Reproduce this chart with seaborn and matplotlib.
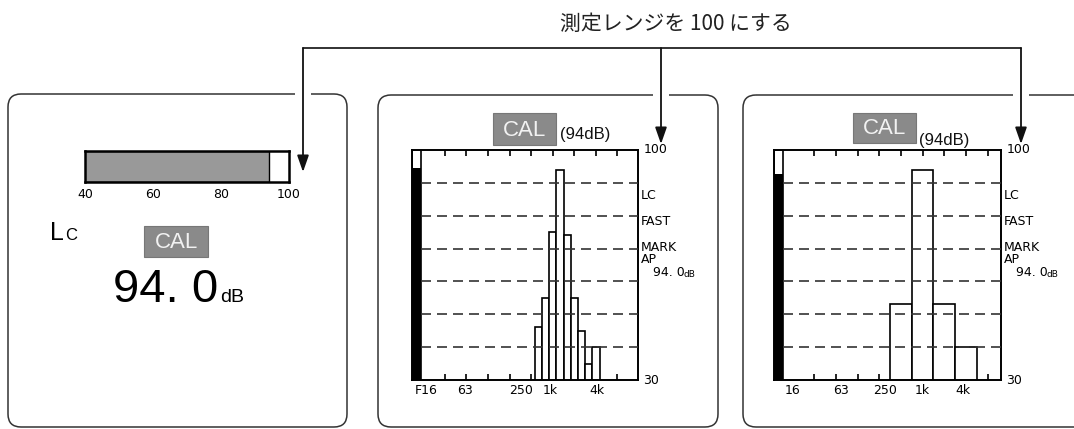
import matplotlib
matplotlib.use("Agg")
import matplotlib.pyplot as plt
import seaborn as sns
import pandas as pd
from matplotlib.patches import FancyBboxPatch, Rectangle

# ---- data ----
meter_ticks = [40, 60, 80, 100]
meter_level = 94.0
display_value = "94. 0"

# 1/3 octave band names, 16 Hz .. 16 kHz
all_bands = ["16", "20", "25", "31.5", "40", "50", "63", "80", "100", "125", "160",
             "200", "250", "315", "400", "500", "630", "800", "1k", "1.25k", "1.6k",
             "2k", "2.5k", "3.15k", "4k", "5k", "6.3k", "8k", "10k", "12.5k", "16k"]

third_bands = ["500", "630", "800", "1k", "1.25k", "1.6k", "2k", "2.5k", "3.15k"]
third_levels = [46, 55, 75, 94, 74, 55, 45, 35, 40]
third_overall = 94.5

octave_bands = ["500", "1k", "2k", "4k"]
octave_levels = [53, 94, 53, 40]
octave_overall = 92.7

grid_levels = [40, 50, 60, 70, 80, 90]
side_labels = ["LC", "FAST", "MARK", "AP"]
side_levels = [86.3, 78.1, 70.2, 66.8]

mid_labels = ["F16", "63", "250", "1k", "4k"]
mid_label_x = [-0.6, 4.8, 12.6, 16.7, 23.2]
mid_ticks = [2, 5, 8, 11, 14, 17, 20, 23, 26]

right_labels = ["16", "63", "250", "1k", "4k"]
right_label_x = [0, 6.7, 12.8, 18, 23.6]
right_ticks = [3, 6, 9, 12, 15, 18, 21, 24, 27]

W, H = 1074, 429
XLIM = (-2.56, 28.85)
STRIP_END = -1.3

sns.set_style("white")
plt.rcParams['font.family'] = ['DejaVu Sans']
plt.rcParams['text.color'] = 'black'
plt.rcParams['xtick.labelcolor'] = 'black'

fig = plt.figure(figsize=(W / 100, H / 100), dpi=100)


def frac(x0, y0, x1, y1):
    return [x0 / W, 1 - y1 / H, (x1 - x0) / W, (y1 - y0) / H]


# background axes in pixel units for frames, arrows and texts
bg = fig.add_axes([0, 0, 1, 1])
bg.set_xlim(0, W)
bg.set_ylim(H, 0)
bg.axis('off')

# rounded panels with a gap where the arrow enters
for x0, x1, y0, gap in [(8, 347, 94, 303), (378, 718, 95, 661), (743, 1110, 95, 1021)]:
    bg.add_patch(FancyBboxPatch((x0, y0), x1 - x0, 427 - y0,
                                boxstyle="round,pad=0,rounding_size=13",
                                fc='none', ec='#333333', lw=1.1))
    bg.plot([gap - 8, gap + 8], [y0, y0], color='white', lw=4, solid_capstyle='butt')

# bracket and arrows
bg.plot([303, 1021], [48, 48], color='#222222', lw=1.3)
for x, tip in [(303, 172), (661, 144), (1021, 144)]:
    bg.annotate("", xy=(x, tip), xytext=(x, 48),
                arrowprops=dict(arrowstyle="-|>,head_length=1.0,head_width=0.35",
                                mutation_scale=10, lw=1.3, color='#111111',
                                shrinkA=0, shrinkB=0))

bg.text(676, 24, "測定レンジを 100 にする", ha='center', va='center', fontsize=15,
        family=['Noto Sans CJK JP', 'DejaVu Sans'], color='#222222')

# left panel: Lc, CAL, reading
bg.text(50, 240, "L", fontsize=18, family='Liberation Sans', va='baseline')
bg.text(65, 240, "C", fontsize=12, family='Liberation Sans', va='baseline')
bg.text(113, 302, display_value, fontsize=34, family='Liberation Sans', va='baseline')
bg.text(220, 302, "dB", fontsize=14, family='Liberation Sans', va='baseline')


def cal_box(x0, y0, x1, y1, note_x=None, note_y=None):
    bg.add_patch(Rectangle((x0, y0), x1 - x0, y1 - y0, fc='#8a8a8a', ec='#777777', lw=0.8))
    bg.text((x0 + x1) / 2, (y0 + y1) / 2 + 1, "CAL", ha='center', va='center',
            fontsize=16, color='#f2f2f2', family='Liberation Sans')
    if note_x is not None:
        bg.text(note_x, note_y, "(94dB)", ha='left', va='center', fontsize=12,
                family='Liberation Sans', color='#111111')


cal_box(144, 226, 208, 257)
cal_box(493, 113, 556, 145, 560, 135)
cal_box(853, 113, 916, 143, 919, 140)

# bar meter
axm = fig.add_axes(frac(85, 151, 289, 182))
sns.barplot(x=[meter_level], y=[0], orient='h', color='#999999', width=1.0,
            saturation=1, edgecolor='black', linewidth=1.0, ax=axm)
axm.set_xlim(40, 100)
axm.set_ylim(0.5, -0.5)
axm.set_xticks(meter_ticks)
axm.set_yticks([])
axm.set_xlabel('')
axm.set_ylabel('')
axm.tick_params(axis='x', length=0, pad=4, labelsize=9)
for s in axm.spines.values():
    s.set_linewidth(1.8)
    s.set_color('black')


def spectrum(rect, bands, levels, overall, ticks, labels, label_x):
    ax = fig.add_axes(frac(*rect))
    df = pd.DataFrame({"band": [all_bands.index(b) for b in bands], "level": levels})
    sns.barplot(data=df, x="band", y="level", native_scale=True, width=1.0,
                color="white", saturation=1, edgecolor="black", linewidth=1.2,
                errorbar=None, ax=ax)
    ax.set_xlim(*XLIM)
    ax.set_ylim(30, 100)
    # overall level strip on the left
    sc = (XLIM[0] + STRIP_END) / 2
    sw = STRIP_END - XLIM[0]
    ax.bar(sc, overall, width=sw, color='black', lw=0)
    ax.bar(sc, 100, width=sw, fill=False, ec='black', lw=1.2)
    ax.hlines(grid_levels, STRIP_END, XLIM[1], colors='#333333',
              linestyles=(0, (6, 3.6)), lw=1.2, zorder=3)
    ax.set_xticks(ticks)
    ax.set_xticklabels([])
    ax.set_yticks([])
    ax.set_xlabel('')
    ax.set_ylabel('')
    ax.tick_params(axis='x', direction='in', length=4, width=1.2, top=True,
                   bottom=True, color='black')
    for s in ax.spines.values():
        s.set_linewidth(1.4)
        s.set_color('black')
    for lab, x in zip(labels, label_x):
        ax.annotate(lab, xy=(x, 30), xytext=(0, -3), textcoords='offset points',
                    ha='center', va='top', fontsize=9)
    side = dict(xycoords=('axes fraction', 'data'), textcoords='offset points',
                va='center', fontsize=9)
    ax.annotate("100", xy=(1, 100), xytext=(4, 0), **side)
    ax.annotate("30", xy=(1, 30), xytext=(4, 0), **side)
    for lab, lv in zip(side_labels, side_levels):
        ax.annotate(lab, xy=(1, lv), xytext=(2, 0), **side)
    ax.annotate(display_value, xy=(1, 62.6), xytext=(11, 0), **side)
    ax.annotate("dB", xy=(1, 62.0), xytext=(33, 0), xycoords=('axes fraction', 'data'),
                textcoords='offset points', va='center', fontsize=6.5)
    return ax


spectrum((412, 150, 638, 380), third_bands, third_levels, third_overall,
         mid_ticks, mid_labels, mid_label_x)
spectrum((774, 150, 1001, 380), octave_bands, octave_levels, octave_overall,
         right_ticks, right_labels, right_label_x)

fig.savefig("out.png", dpi=100)
